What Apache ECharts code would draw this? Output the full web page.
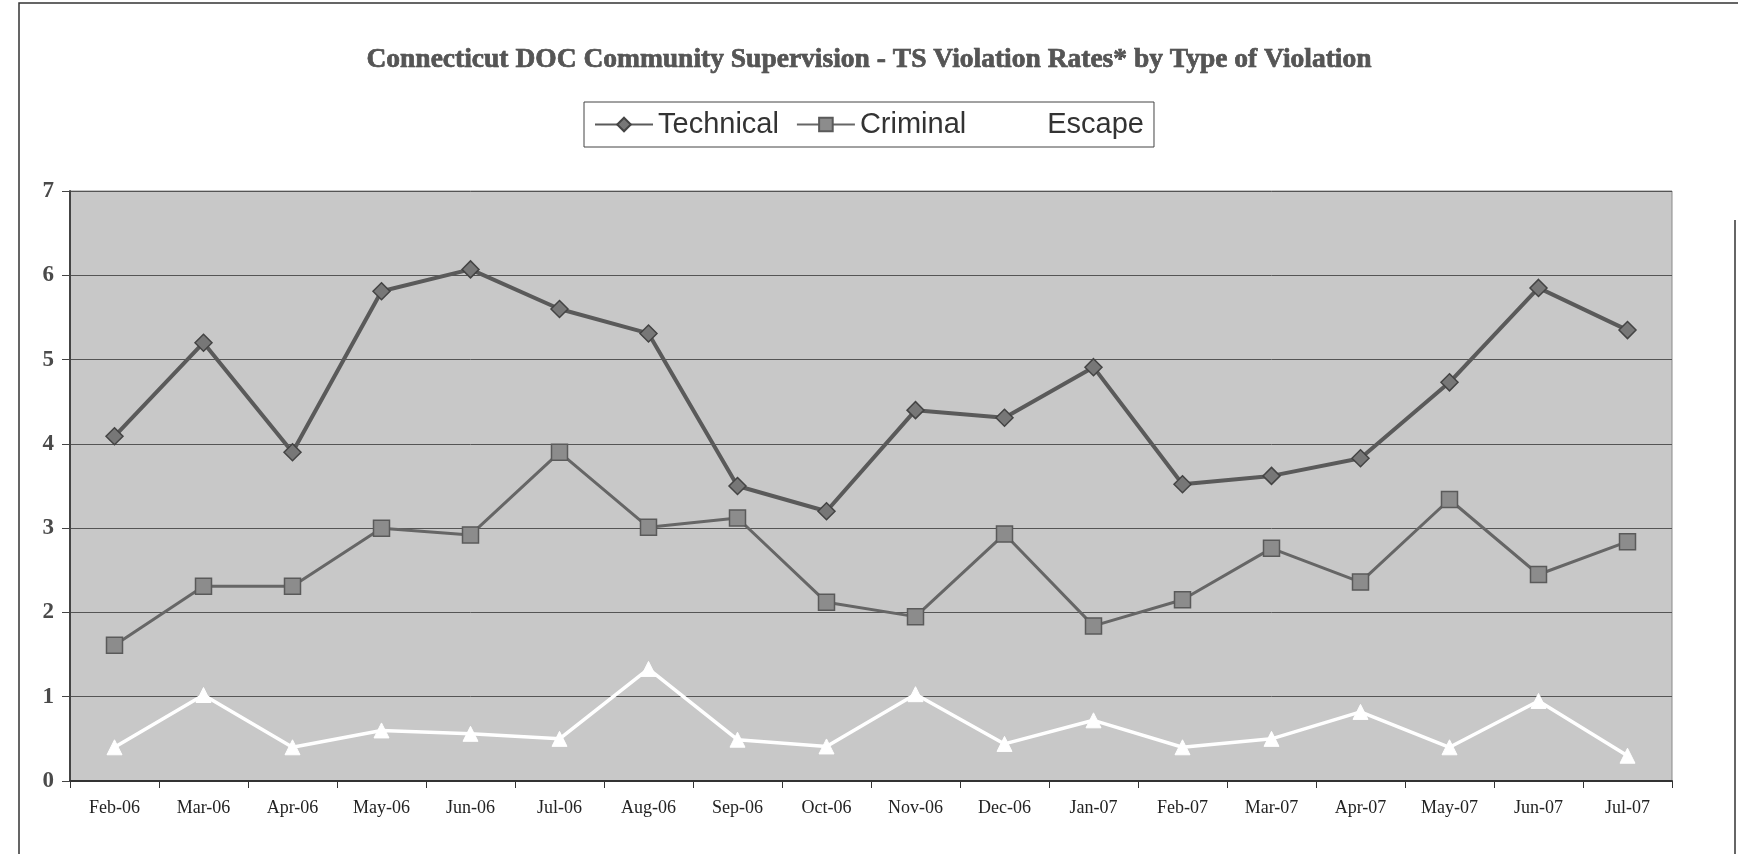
<!DOCTYPE html>
<html>
<head>
<meta charset="utf-8">
<script src="https://cdn.jsdelivr.net/npm/echarts@6/dist/echarts.min.js"></script>
<style>
html,body{margin:0;padding:0;background:#fff;}
#chart{width:1738px;height:854px;}
</style>
</head>
<body>
<div id="chart"></div>
<script>
const categories = ['Feb-06','Mar-06','Apr-06','May-06','Jun-06','Jul-06','Aug-06','Sep-06','Oct-06','Nov-06','Dec-06','Jan-07','Feb-07','Mar-07','Apr-07','May-07','Jun-07','Jul-07'];
const technical = [4.09, 5.2, 3.9, 5.81, 6.07, 5.6, 5.31, 3.5, 3.2, 4.4, 4.31, 4.91, 3.52, 3.62, 3.83, 4.73, 5.85, 5.35];
const criminal  = [1.61, 2.31, 2.31, 3.0, 2.92, 3.9, 3.01, 3.12, 2.12, 1.95, 2.93, 1.84, 2.15, 2.76, 2.36, 3.34, 2.45, 2.84];
const escape    = [0.4, 1.02, 0.4, 0.6, 0.56, 0.5, 1.33, 0.49, 0.41, 1.03, 0.44, 0.72, 0.4, 0.5, 0.82, 0.4, 0.95, 0.3];
const yTicks = [0, 1, 2, 3, 4, 5, 6, 7];

const chart = echarts.init(document.getElementById('chart'));
chart.setOption({
  backgroundColor: '#ffffff',
  animation: false,
  title: {
    text: 'Connecticut DOC Community Supervision - TS Violation Rates* by Type of Violation',
    left: 'center',
    top: 41,
    textStyle: {
      fontFamily: 'Liberation Serif',
      fontWeight: 'bold',
      fontSize: 27.5,
      color: '#555555',
      textBorderColor: '#333333',
      textBorderWidth: 0.6
    }
  },
  legend: {
    top: 102,
    left: 'center',
    data: ['Technical', 'Criminal', 'Escape'],
    backgroundColor: '#ffffff',
    borderColor: '#444444',
    borderWidth: 1,
    padding: [8, 10, 8, 10],
    itemWidth: 58,
    itemHeight: 17,
    itemGap: 17,
    textStyle: {
      fontFamily: 'Liberation Sans',
      fontSize: 29,
      color: '#333333'
    }
  },
  grid: {
    left: 70,
    right: 66,
    top: 191,
    bottom: 73,
    show: true,
    backgroundColor: '#c8c8c8',
    borderColor: '#8a8a8a',
    borderWidth: 1
  },
  xAxis: {
    type: 'category',
    data: categories,
    boundaryGap: true,
    axisLine: { lineStyle: { color: '#333333', width: 2 } },
    axisTick: { show: true, length: 7, lineStyle: { color: '#333333', width: 1 } },
    axisLabel: {
      margin: 18,
      fontFamily: 'Liberation Serif',
      fontSize: 18,
      color: '#222222'
    },
    splitLine: { show: false }
  },
  yAxis: {
    type: 'value',
    min: yTicks[0],
    max: yTicks[yTicks.length - 1],
    interval: 1,
    axisLine: { show: true, lineStyle: { color: '#444444', width: 2 } },
    axisTick: { show: true, length: 8, lineStyle: { color: '#444444' } },
    axisLabel: {
      margin: 16,
      fontFamily: 'Liberation Serif',
      fontWeight: 'bold',
      fontSize: 23,
      color: '#4a4a4a'
    },
    splitLine: { show: true, lineStyle: { color: '#555555', width: 1 } }
  },
  series: [
    {
      name: 'Technical',
      type: 'line',
      data: technical,
      symbol: 'diamond',
      symbolSize: 17,
      lineStyle: { color: '#5a5a5a', width: 4 },
      itemStyle: { color: '#777777', borderColor: '#444444', borderWidth: 1.5 }
    },
    {
      name: 'Criminal',
      type: 'line',
      data: criminal,
      symbol: 'rect',
      symbolSize: 16,
      lineStyle: { color: '#666666', width: 3 },
      itemStyle: { color: '#8c8c8c', borderColor: '#5a5a5a', borderWidth: 1.5 }
    },
    {
      name: 'Escape',
      type: 'line',
      data: escape,
      symbol: 'triangle',
      symbolSize: 15,
      lineStyle: { color: '#ffffff', width: 3.5 },
      itemStyle: { color: '#ffffff', borderColor: '#ffffff', borderWidth: 1 }
    }
  ],
  graphic: [
    {
      type: 'polyline',
      shape: { points: [[19, 854], [19, 3], [1738, 3]] },
      style: { fill: 'none', stroke: '#333333', lineWidth: 1.5 },
      silent: true
    },
    {
      type: 'line',
      shape: { x1: 1735, y1: 220, x2: 1735, y2: 854 },
      style: { stroke: '#333333', lineWidth: 1.5 },
      silent: true
    }
  ]
});
</script>
</body>
</html>
